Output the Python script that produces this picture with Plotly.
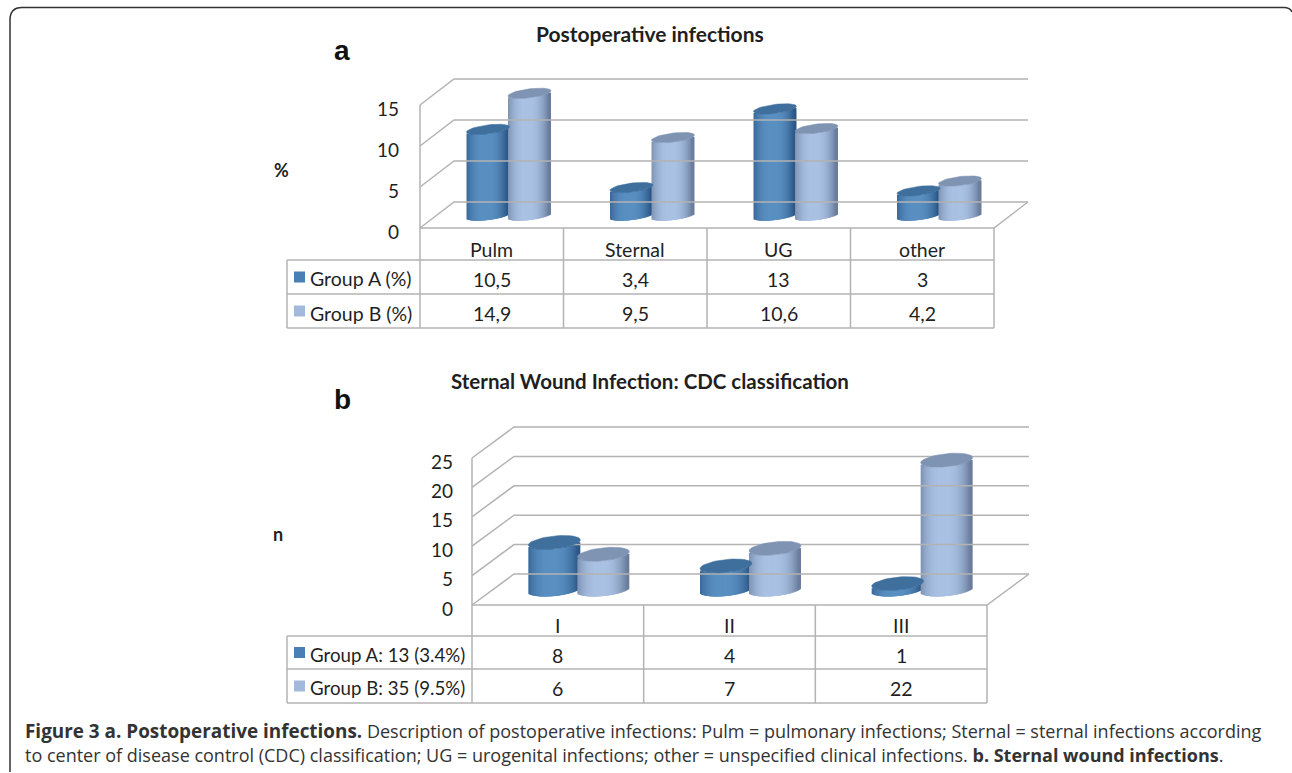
import numpy as np
import plotly.graph_objects as go

W, H = 1292, 773

# ---- data ----
cats_a = ["Pulm", "Sternal", "UG", "other"]
group_a_pct = [10.5, 3.4, 13, 3]
group_b_pct = [14.9, 9.5, 10.6, 4.2]
labels_a_pct = ["10,5", "3,4", "13", "3"]
labels_b_pct = ["14,9", "9,5", "10,6", "4,2"]
ticks_a = [0, 5, 10, 15]
row_names_a = ["Group A (%)", "Group B (%)"]

cats_b = ["I", "II", "III"]
group_a_n = [8, 4, 1]
group_b_n = [6, 7, 22]
ticks_b = [0, 5, 10, 15, 20, 25]
row_names_b = ["Group A: 13 (3.4%)", "Group B: 35 (9.5%)"]

title_a = "Postoperative infections"
title_b = "Sternal Wound Infection: CDC classification"
caption_1 = ("<span style=\"font-size:18.9px\"><b>Figure 3 a. Postoperative infections.</b></span> "
             "Description of postoperative infections: "
             "Pulm = pulmonary infections; Sternal = sternal infections according")
caption_2 = ("to center of disease control (CDC) classification; UG = urogenital infections; "
             "other = unspecified clinical infections. <b>b. Sternal wound infections</b>.")

# ---- styles ----
GRID = "#b3b3b3"
TXT = "#1f1f1f"
A_DARK, A_LIGHT, A_CAP = (52, 98, 146), (90, 144, 194), "#3f6f9c"
B_DARK, B_LIGHT, B_CAP = (118, 138, 170), (170, 194, 228), "#7f93b3"
FONT = "Lato"
CAP_FONT = "Open Sans"


def px(x):
    return x / W


def py(y):
    return 1 - y / H


def shade(t, dark, light):
    k = 1 - abs(t) ** 2.6
    return "rgb(%d,%d,%d)" % tuple(int(d + (l - d) * k) for d, l in zip(dark, light))


fig = go.Figure()
shapes, annots = [], []


def text(x, y, s, size=18, color=TXT, family=FONT, anchor="center", xref="paper", bold=False):
    annots.append(dict(x=x, y=py(y), xref=xref, yref="paper", text=f"<b>{s}</b>" if bold else s,
                       showarrow=False, xanchor=anchor, yanchor="middle",
                       font=dict(size=size, color=color, family=family)))


def hline(x0, x1, y):
    shapes.append(dict(type="line", xref="paper", yref="paper", x0=px(x0), x1=px(x1), y0=py(y), y1=py(y),
                       line=dict(color=GRID, width=1.5), layer="below"))


def vline(x, y0, y1):
    shapes.append(dict(type="line", xref="paper", yref="paper", x0=px(x), x1=px(x), y0=py(y0), y1=py(y1),
                       line=dict(color=GRID, width=1.5), layer="below"))


def panel(idx, cats, va, vb, row_names, labels_a, labels_b, ticks, P):
    xa, ya = ("xaxis", "yaxis") if idx == 1 else (f"xaxis{idx}", f"yaxis{idx}")
    xr, yr = ("x", "y") if idx == 1 else (f"x{idx}", f"y{idx}")
    cw = (P["right"] - P["left"]) / len(cats)
    sy = P["scale"]
    to_x = lambda p: (p - P["left"]) / cw - 0.5
    to_y = lambda p: (P["floor"] - p) / sy
    fig.update_layout({
        xa: dict(domain=[px(P["dl"]), px(P["dr"])], range=[to_x(P["dl"]), to_x(P["dr"])], visible=False,
                 anchor=yr, fixedrange=True, automargin=False),
        ya: dict(domain=[py(P["db"]), py(P["dt"])], range=[to_y(P["db"]), to_y(P["dt"])], anchor=xr,
                 tickvals=ticks, ticktext=[str(t) for t in ticks], showgrid=False, zeroline=False,
                 showline=False, ticks="", ticklabelshift=4, automargin=False,
                 tickfont=dict(size=P["tick"], color=TXT, family=FONT), fixedrange=True),
    })

    # walls: left wall diagonals, back wall lines, floor
    dx = to_x(P["left"] + P["depth"]) - to_x(P["left"])
    dy = P["rise"] / sy
    wx, wy = [], []
    x0, x1 = -0.5, len(cats) - 0.5
    for t in ticks:
        wx += [x0, x0 + dx, x1 + dx, None]
        wy += [t, t + dy, t + dy, None]
    wx += [x0, x0, None, x0, x1, x1 + dx, None]
    wy += [ticks[0], ticks[-1], None, 0, 0, dy, None]
    fig.add_trace(go.Scatter(x=wx, y=wy, mode="lines", line=dict(color=GRID, width=1.5), xaxis=xr, yaxis=yr,
                             hoverinfo="skip", showlegend=False))

    # cylinders: each is a run of thin bars whose height is the value and whose base follows the ellipse
    strip = 3.0
    hw = P["cyl"] / 2 - strip / 2
    n = int(P["cyl"])
    ts = np.linspace(-1, 1, n)
    a_px, b_px, tilt = P["cyl"] / 2, P["semi"], P["tilt"]
    offs = np.sqrt(np.clip(1 - (ts * hw / a_px) ** 2, 0, 1)) * b_px
    base_shift = (P["floor"] - P["base"]) / sy
    for vals, sign, name, dark, light, cap in [(va, -1, row_names[0], A_DARK, A_LIGHT, A_CAP),
                                               (vb, 1, row_names[1], B_DARK, B_LIGHT, B_CAP)]:
        bx, by, bb, bc = [], [], [], []
        cx, cy = [], []
        for i, v in enumerate(vals):
            centre = i + dx / 2 + (sign * (P["gap"] / 2)) / cw
            for t, o in zip(ts, offs):
                bx.append(centre + t * hw / cw)
                by.append(v)
                bb.append(base_shift + (tilt * t * hw - o) / sy)
                bc.append(shade(t + 0.08, dark, light))
            th = np.linspace(0, 2 * np.pi, 49)
            cx += list(centre + np.cos(th) * a_px / cw) + [None]
            cy += list(base_shift + v + (tilt * np.cos(th) * a_px + np.sin(th) * b_px) / sy) + [None]
        fig.add_trace(go.Bar(x=bx, y=by, base=bb, width=strip / cw,
                             marker=dict(color=bc, line=dict(width=0)), name=name, xaxis=xr, yaxis=yr,
                             hoverinfo="skip", showlegend=False))
        fig.add_trace(go.Scatter(x=cx, y=cy, mode="lines", fill="toself", fillcolor=cap, line=dict(color=cap, width=0.5),
                                 xaxis=xr, yaxis=yr, hoverinfo="skip", showlegend=False))

    # table under the plot
    f, r1, r2, r3 = P["floor"], P["r1"], P["r2"], P["r3"]
    for k in range(len(cats) + 1):
        vline(P["left"] + k * cw, f, r3)
    hline(P["tl"], P["right"], r1)
    hline(P["tl"], P["right"], r2)
    hline(P["tl"], P["right"], r3)
    vline(P["tl"], r1, r3)
    for i, c in enumerate(cats):
        xc = P["left"] + (i + 0.5) * cw
        text(px(xc), (f + r1) / 2 + 5, c, size=P["tab"])
        text(px(xc), (r1 + r2) / 2 + 2.5, labels_a[i], size=P["tab"])
        text(px(xc), (r2 + r3) / 2 + 2.5, labels_b[i], size=P["tab"])
    for yc, nm, col in [((r1 + r2) / 2, row_names[0], "#4a7fb5"), ((r2 + r3) / 2, row_names[1], "#a2b9dc")]:
        shapes.append(dict(type="rect", xref="paper", yref="paper", x0=px(294), x1=px(305), y0=py(yc - 5.5),
                           y1=py(yc + 5.5), fillcolor=col, line=dict(width=0), layer="below"))
        text(px(308), yc + 2, nm, size=P["name"], anchor="left")


panel(1, cats_a, group_a_pct, group_b_pct, row_names_a, labels_a_pct, labels_b_pct, ticks_a,
      dict(left=420, right=994, floor=228, scale=8.2, depth=34, rise=26, dl=400, dr=1040, db=240, dt=70,
           tick=19, tab=19.5, name=19.5, cyl=43, gap=41.5, semi=4.5, tilt=0.12, base=215.5,
           tl=287, r1=260, r2=294, r3=328))
panel(2, cats_b, group_a_n, group_b_n, row_names_b, [str(v) for v in group_a_n], [str(v) for v in group_b_n], ticks_b,
      dict(left=472, right=987, floor=605, scale=5.88, depth=42, rise=31, dl=454, dr=1040, db=615, dt=415,
           tick=19, tab=19.5, name=18.7, cyl=52, gap=49, semi=6.5, tilt=0.1, base=589.5,
           tl=287, r1=636, r2=669, r3=703))

# titles and letters
text(px(650), 33, title_a, size=21, bold=True)
text(px(650), 381, title_b, size=20.5, bold=True)
text(px(342), 51, "a", size=28, family="Liberation Sans", color="#111", bold=True)
text(px(342), 399, "b", size=28, family="Liberation Sans", color="#111", bold=True)
text(px(281), 170, "%", size=18, bold=True)
text(px(278), 534, "n", size=18, bold=True)

# caption
text(px(23), 731, caption_1, size=18, family=CAP_FONT, color="#333333", anchor="left")
text(px(23), 755, caption_2, size=18, family=CAP_FONT, color="#333333", anchor="left")

# figure frame with a rounded top
shapes.append(dict(type="path", xref="paper", yref="paper", layer="below",
                   path=f"M {px(10)} {py(772)} L {px(10)} {py(20)} Q {px(10)} {py(7.5)} {px(22)} {py(7.5)} "
                        f"L {px(1284)} {py(7.5)} Q {px(1290)} {py(7.5)} {px(1292)} {py(12)}",
                   line=dict(color="#333333", width=1.5)))

fig.update_layout(width=W, height=H, margin=dict(l=0, r=0, t=0, b=0), paper_bgcolor="white", plot_bgcolor="rgba(0,0,0,0)",
                  barmode="overlay", showlegend=False, shapes=shapes, annotations=annots)

fig.write_html("out.html", config=dict(displayModeBar=False),
               post_script="document.body.style.margin='0';document.body.style.overflow='hidden';")
